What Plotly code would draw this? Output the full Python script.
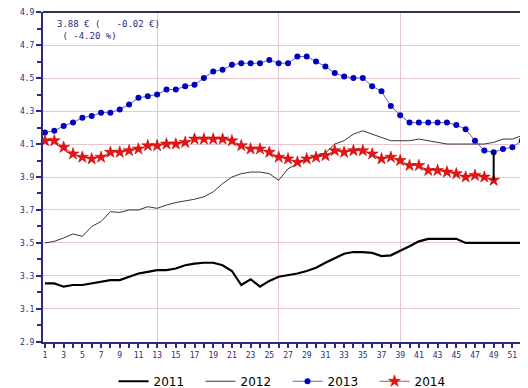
import plotly.graph_objects as go

weeks = list(range(1, 53))

price_2011 = [3.255, 3.255, 3.235, 3.245, 3.245, 3.255, 3.265, 3.275, 3.275, 3.295,
              3.315, 3.325, 3.335, 3.335, 3.345, 3.365, 3.375, 3.38, 3.38, 3.365,
              3.33, 3.245, 3.28, 3.235, 3.27, 3.295, 3.305, 3.315, 3.33, 3.35,
              3.38, 3.41, 3.435, 3.445, 3.445, 3.44, 3.42, 3.425, 3.45, 3.48,
              3.51, 3.525, 3.525, 3.525, 3.525, 3.50, 3.50, 3.50, 3.50, 3.50,
              3.50, 3.50]

price_2012 = [3.50, 3.51, 3.53, 3.555, 3.54, 3.60, 3.63, 3.69, 3.685, 3.70,
              3.70, 3.72, 3.71, 3.73, 3.745, 3.755, 3.765, 3.78, 3.81, 3.86,
              3.90, 3.92, 3.93, 3.93, 3.92, 3.88, 3.95, 3.98, 4.005, 4.03,
              4.045, 4.10, 4.12, 4.16, 4.18, 4.16, 4.14, 4.12, 4.12, 4.12,
              4.13, 4.12, 4.11, 4.10, 4.10, 4.10, 4.10, 4.10, 4.11, 4.13,
              4.13, 4.15]

price_2013 = [4.17, 4.18, 4.21, 4.23, 4.26, 4.27, 4.29, 4.29, 4.31, 4.34,
              4.38, 4.39, 4.40, 4.43, 4.43, 4.45, 4.46, 4.50, 4.54, 4.55,
              4.58, 4.59, 4.59, 4.59, 4.61, 4.59, 4.59, 4.63, 4.63, 4.60,
              4.57, 4.53, 4.51, 4.50, 4.50, 4.45, 4.42, 4.33, 4.275, 4.23,
              4.23, 4.23, 4.23, 4.23, 4.215, 4.19, 4.12, 4.06, 4.05, 4.07,
              4.08, 4.12]

price_2014 = [4.12, 4.12, 4.08, 4.04, 4.02, 4.01, 4.02, 4.05, 4.05, 4.06,
              4.07, 4.09, 4.09, 4.10, 4.10, 4.11, 4.13, 4.13, 4.13, 4.13,
              4.12, 4.09, 4.07, 4.07, 4.05, 4.02, 4.01, 3.99, 4.01, 4.02,
              4.03, 4.06, 4.05, 4.06, 4.06, 4.04, 4.01, 4.02, 4.00, 3.97,
              3.97, 3.94, 3.94, 3.93, 3.92, 3.90, 3.91, 3.90, 3.88]

y_ticks = [2.9, 3.1, 3.3, 3.5, 3.7, 3.9, 4.1, 4.3, 4.5, 4.7, 4.9]
x_ticks = list(range(1, 54))
x_labels = [str(w) if w % 2 == 1 else "" for w in x_ticks]
x_grid = [13, 26, 39, 52]

NAVY = "#2a2a80"
GRID = "#e8c8d0"

fig = go.Figure()

fig.add_trace(go.Scatter(x=weeks, y=price_2011, mode="lines", name="2011",
                         line=dict(color="black", width=2.2)))
fig.add_trace(go.Scatter(x=weeks, y=price_2012, mode="lines", name="2012",
                         line=dict(color="#202020", width=0.9)))
fig.add_trace(go.Scatter(x=weeks, y=price_2013, mode="lines+markers", name="2013",
                         line=dict(color="#6060cc", width=1),
                         marker=dict(color="#0000c0", size=6, symbol="circle")))
fig.add_trace(go.Scatter(x=weeks[:len(price_2014)], y=price_2014, mode="lines+markers",
                         name="2014",
                         line=dict(color="#e04040", width=1),
                         marker=dict(color="#ee1111", size=9, symbol="star",
                                     line=dict(color="#b00000", width=0.5))))

# gap between 2013 and 2014 at the latest week
last = len(price_2014) - 1
fig.add_trace(go.Scatter(x=[weeks[last], weeks[last]],
                         y=[price_2013[last], price_2014[last]],
                         mode="lines", line=dict(color="black", width=2),
                         showlegend=False, hoverinfo="skip"))

# invisible trace for the vertical grid axis
fig.add_trace(go.Scatter(x=[weeks[0]], y=[price_2011[0]], xaxis="x2", mode="markers",
                         marker=dict(opacity=0), showlegend=False, hoverinfo="skip"))

cur = price_2014[last]
diff = price_2014[last] - price_2014[last - 1]
pct = (price_2014[last] - price_2013[last]) / price_2013[last] * 100
fig.add_annotation(xref="paper", yref="paper", x=0.025, y=0.985, xanchor="left",
                   yanchor="top", align="left", showarrow=False,
                   text=f"{cur:.2f} € (   {diff:.2f} €)<br> ( {pct:.2f} %)",
                   font=dict(family="DejaVu Sans Mono", size=9, color=NAVY))

xr = [0.79, 53.1]
fig.update_layout(
    width=528, height=388,
    margin=dict(l=35, r=0, t=3, b=45),
    paper_bgcolor="white", plot_bgcolor="white",
    showlegend=True,
    legend=dict(orientation="h", x=0.5, xanchor="center", y=-0.075, yanchor="top",
                font=dict(family="DejaVu Sans", size=12, color="black"),
                entrywidth=42, entrywidthmode="pixels", tracegroupgap=0,
                bgcolor="rgba(0,0,0,0)"),
    xaxis=dict(range=xr, tickmode="array", tickvals=x_ticks, ticktext=x_labels,
               ticks="outside", ticklen=4, tickcolor=NAVY, tickwidth=1.5,
               showgrid=False, zeroline=False, showline=True, linecolor=NAVY,
               linewidth=2, ticklabeloverflow="allow",
               tickfont=dict(family="DejaVu Sans Mono", size=8, color=NAVY)),
    xaxis2=dict(range=xr, overlaying="x", tickmode="array", tickvals=x_grid,
                showticklabels=False, ticks="", showgrid=True, gridcolor=GRID,
                gridwidth=1, zeroline=False, showline=False),
    yaxis=dict(range=[2.8995, 4.9005], tickmode="array", tickvals=y_ticks,
               ticktext=[f"{v:.1f}" for v in y_ticks],
               ticks="outside", ticklen=5, tickcolor=NAVY, tickwidth=1.5,
               showgrid=True, gridcolor=GRID, gridwidth=1.2, zeroline=False,
               showline=True, linecolor=NAVY, linewidth=2, mirror=False,
               ticklabeloverflow="allow",
               minor=dict(dtick=0.1, tick0=2.9, ticks="outside", ticklen=4,
                          tickcolor=NAVY, showgrid=False),
               tickfont=dict(family="DejaVu Sans Mono", size=8, color=NAVY)),
)
fig.add_shape(type="line", xref="paper", yref="paper", x0=0, x1=1, y0=1, y1=1,
              line=dict(color="#303050", width=2))

fig.write_html("out.html")
